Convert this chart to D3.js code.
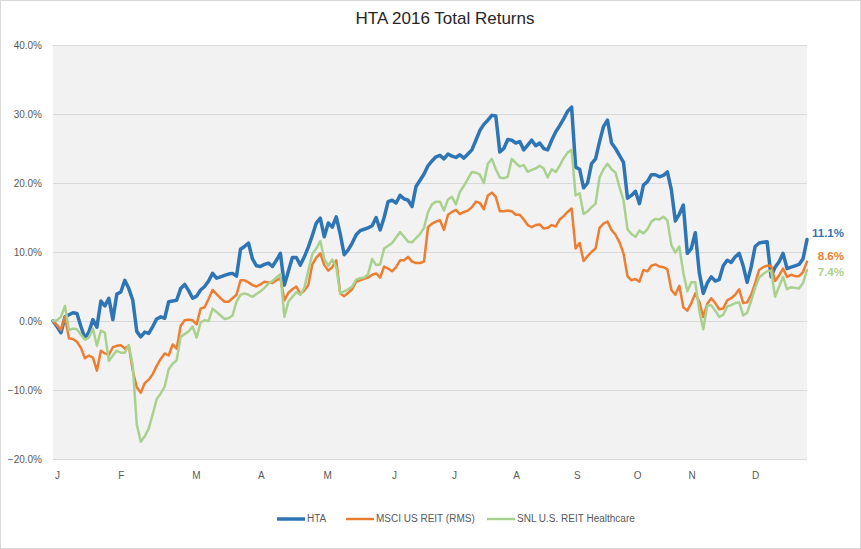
<!DOCTYPE html>
<html>
<head>
<meta charset="utf-8">
<script src="https://cdn.jsdelivr.net/npm/d3@7"></script>
<style>
  html, body { margin: 0; padding: 0; background: #ffffff; }
  svg { display: block; }
  text { font-family: 'Liberation Sans Narrow', 'Liberation Sans', Arial, sans-serif; }
</style>
</head>
<body>
<svg id="chart" width="861" height="549"></svg>
<script>
// ---------------- DATA ----------------
const title = "HTA 2016 Total Returns";
const seriesNames = ["HTA", "MSCI US REIT (RMS)", "SNL U.S. REIT Healthcare"];
const endLabels = ["11.1%", "8.6%", "7.4%"];
const monthLabels = ["J","F","M","A","M","J","J","A","S","O","N","D"];
// position of each month label, in data-point index units
const monthIndex = [1, 17, 35.8, 52.1, 68.7, 85.5, 100.5, 116.1, 131.3, 146.4, 160.1, 176];
const yTicks = [-20, -10, 0, 10, 20, 30, 40];

// cumulative total return, %
const hta = [
  0, -0.8, -1.7, 0.6, 0.9, 1.2, 1.1, -0.8, -2.5, -1.6,
  0.2, -0.9, 2.9, 2.2, 3.3, 0.2, 3.9, 4.2, 5.9, 4.7,
  3.0, -1.5, -2.3, -1.6, -1.8, -0.8, 0.3, 0.6, 0.4, 2.8,
  2.9, 3.0, 4.7, 5.3, 4.4, 3.3, 3.6, 4.5, 5.0, 5.8,
  6.9, 6.2, 6.4, 6.6, 6.8, 6.9, 6.5, 10.4, 10.8, 11.3,
  9.0, 8.0, 7.9, 8.2, 8.4, 7.9, 8.8, 9.8, 5.2, 7.2,
  9.2, 9.2, 8.1, 9.3, 10.7, 12.4, 14.2, 14.9, 12.2, 14.2,
  13.6, 15.1, 12.6, 9.6, 10.3, 11.3, 12.5, 13.1, 13.3, 13.5,
  13.8, 15.0, 13.2, 15.0, 17.3, 17.5, 17.1, 18.2, 17.7, 17.5,
  16.6, 19.5, 20.4, 21.3, 22.5, 23.2, 23.8, 24.0, 23.5, 24.2,
  23.9, 23.7, 24.1, 23.6, 24.2, 24.8, 26.2, 27.6, 28.5, 29.1,
  29.8, 29.7, 24.5, 25.0, 26.3, 26.2, 25.8, 26.0, 24.8, 25.5,
  26.2, 25.4, 25.8, 25.0, 24.8, 26.2, 27.4, 28.3, 29.3, 30.4,
  31.0, 22.3, 22.0, 19.3, 20.0, 22.8, 23.5, 26.0, 28.2, 29.1,
  25.8, 25.0, 24.0, 23.0, 17.8, 18.2, 18.8, 17.0, 19.7, 20.2,
  21.2, 21.2, 20.9, 21.1, 21.6, 19.0, 14.5, 15.5, 16.8, 9.8,
  10.5, 12.8, 7.0, 4.0, 5.5, 6.4, 5.8, 6.0, 8.0, 8.8,
  8.5, 9.3, 9.8, 8.0, 5.6, 7.8, 10.8, 11.3, 11.4, 11.5,
  6.4, 7.8, 8.6, 9.8, 7.6, 7.8, 8.0, 8.2, 9.0, 11.8
];
const msci = [
  0, -0.6, -1.3, 0.6, -2.5, -2.6, -3.0, -3.9, -5.4, -5.0,
  -5.3, -7.2, -4.3, -4.7, -4.9, -3.8, -3.6, -3.5, -4.0, -3.6,
  -7.2, -9.6, -10.4, -9.0, -8.5, -7.7, -6.5, -5.5, -4.7, -5.0,
  -3.4, -4.0, -0.7, 0.1, 0.2, 0.1, -0.5, 1.8, 2.0, 3.2,
  4.5, 3.9, 3.3, 2.8, 2.8, 3.3, 3.8, 5.9, 5.9, 5.6,
  5.2, 5.0, 5.3, 5.7, 5.6, 5.5, 5.9, 6.2, 3.0, 4.1,
  4.6, 5.0, 3.9, 4.4, 5.2, 8.2, 9.2, 9.8, 8.1, 7.3,
  7.8, 8.8, 4.0, 3.6, 4.1, 4.6, 5.7, 5.9, 6.1, 6.3,
  6.7, 6.9, 6.3, 7.9, 7.6, 7.2, 7.8, 8.8, 8.8, 9.3,
  8.6, 8.4, 8.4, 8.6, 13.6, 14.1, 14.4, 14.6, 13.2, 15.4,
  15.8, 16.1, 15.5, 15.8, 16.0, 16.5, 17.3, 17.1, 16.2, 18.2,
  18.6, 18.0, 15.9, 15.9, 16.0, 15.9, 15.4, 15.4, 14.7, 13.9,
  13.6, 13.9, 14.0, 13.4, 13.5, 13.9, 13.7, 14.7, 15.2, 15.8,
  16.3, 10.5, 11.3, 8.7, 9.4, 10.0, 10.5, 13.5, 14.1, 14.4,
  13.2, 12.5, 11.4, 9.8, 6.5, 5.9, 6.1, 5.7, 7.4, 7.2,
  8.0, 8.2, 7.9, 7.8, 7.5, 4.5, 3.8, 5.1, 2.0, 1.5,
  2.6, 4.0, 2.8, 0.6, 2.5, 3.3, 2.6, 1.7, 1.8, 3.0,
  3.3, 3.8, 4.6, 2.6, 2.7, 3.8, 5.5, 7.4, 7.8, 8.0,
  8.0, 5.8, 6.6, 7.6, 6.4, 6.7, 6.5, 6.5, 7.1, 8.6
];
const snl = [
  0, 0.1, 0.6, 2.2, -1.3, -1.1, -1.2, -2.0, -2.7, -2.4,
  -1.1, -3.6, -1.4, -1.7, -5.8, -5.0, -4.3, -4.6, -4.6, -3.5,
  -6.5, -15.0, -17.5, -16.7, -15.6, -13.5, -11.3, -10.5, -9.5, -7.0,
  -6.2, -5.7, -2.3, -1.9, -1.5, -0.8, -2.4, -0.2, 0.1, 0.0,
  1.8, 1.3, 0.8, 0.3, 0.4, 0.8, 2.8, 3.8, 4.0, 3.8,
  3.5, 3.9, 4.3, 4.8, 5.4, 5.8, 6.3, 6.8, 0.6, 2.8,
  3.5, 4.2, 3.8, 4.8, 7.3, 9.7, 10.5, 11.6, 9.0, 8.0,
  8.9, 7.8, 4.0, 4.3, 4.6, 5.0, 6.0, 6.2, 6.3, 6.8,
  9.0, 8.1, 8.2, 10.5, 10.9, 11.3, 12.1, 12.9, 12.2, 11.5,
  11.4, 12.0, 12.6, 13.5, 15.8, 16.9, 17.3, 17.3, 16.0, 17.6,
  18.0, 16.9, 18.7, 19.6, 20.6, 21.6, 21.5, 21.2, 20.0, 22.8,
  23.5, 22.0, 20.8, 20.7, 20.9, 23.5, 22.9, 22.4, 22.6, 21.6,
  21.9, 22.1, 22.5, 22.1, 20.8, 22.0, 21.6, 22.5, 23.6, 24.4,
  24.8, 18.2, 18.5, 15.5, 15.9, 16.5, 17.0, 20.8, 22.0, 22.8,
  22.0, 21.5, 19.4, 17.5, 13.3, 12.6, 12.2, 13.1, 12.7, 13.3,
  14.4, 14.8, 14.7, 15.1, 14.6, 11.0, 9.9, 10.8, 7.0, 4.3,
  5.6, 5.6, 1.5, -1.2, 2.2, 2.3, 1.5, 0.6, 0.9, 2.1,
  2.3, 2.6, 2.7, 0.8, 1.2, 2.9, 4.8, 6.3, 6.8, 7.2,
  7.3, 3.5, 5.0, 6.4, 4.6, 4.9, 4.8, 4.7, 5.5, 7.4
];

// ---------------- STYLE / LAYOUT ----------------
const colors = ["#2e75b6", "#ed7d31", "#a9d18e"];
const widths = [3.5, 2.5, 2.5];
const labelDy = [-6, -5, 3];
const plot = { left: 53, right: 807, top: 45, bottom: 459 };

const svg = d3.select("#chart");

// chart border
svg.append("rect").attr("x", 0.5).attr("y", 0.5).attr("width", 860).attr("height", 548)
  .attr("fill", "#ffffff").attr("stroke", "#d9d9d9");

// plot background
svg.append("rect").attr("x", plot.left).attr("y", plot.top)
  .attr("width", plot.right - plot.left).attr("height", plot.bottom - plot.top)
  .attr("fill", "#f2f2f2");

const n = hta.length;
const x = d3.scaleLinear().domain([0, n - 1]).range([plot.left, plot.right]);
const y = d3.scaleLinear().domain([-20, 40]).range([plot.bottom, plot.top]);

// gridlines
const grid = svg.append("g").attr("transform", `translate(${plot.left},0)`)
  .call(d3.axisLeft(y).tickValues(yTicks).tickSize(-(plot.right - plot.left)).tickFormat(""));
grid.select(".domain").remove();
grid.selectAll("line").attr("stroke", "#d9d9d9").attr("stroke-width", 1);

// y axis labels
const yAxis = svg.append("g").attr("transform", `translate(${plot.left},0)`)
  .call(d3.axisLeft(y).tickValues(yTicks).tickSize(0).tickPadding(11)
    .tickFormat(d => d3.format(".1f")(d) + "%"));
yAxis.select(".domain").remove();
yAxis.selectAll("text").attr("font-size", 10).attr("fill", "#595959")
  .style("font-family", "'Liberation Sans Narrow', 'Liberation Sans', Arial, sans-serif");

// x axis labels
const xAxis = svg.append("g").attr("transform", `translate(0,${plot.bottom})`)
  .call(d3.axisBottom(x).tickValues(monthIndex).tickSize(0).tickPadding(13)
    .tickFormat((d, i) => monthLabels[i]));
xAxis.select(".domain").remove();
xAxis.selectAll("text").attr("font-size", 10).attr("fill", "#595959")
  .style("font-family", "'Liberation Sans Narrow', 'Liberation Sans', Arial, sans-serif");

// lines
const allSeries = [hta, msci, snl];
const line = d3.line().x((d, i) => x(i)).y(d => y(d));
allSeries.forEach((s, k) => {
  svg.append("path").datum(s)
    .attr("fill", "none")
    .attr("stroke", colors[k])
    .attr("stroke-width", widths[k])
    .attr("stroke-linejoin", "round")
    .attr("stroke-linecap", "round")
    .attr("d", line);
});

// end labels
allSeries.forEach((s, k) => {
  svg.append("text")
    .attr("x", 844)
    .attr("y", y(s[s.length - 1]) + labelDy[k])
    .attr("text-anchor", "end")
    .attr("dominant-baseline", "middle")
    .attr("font-size", 11.5)
    .attr("font-weight", "bold")
    .attr("fill", colors[k])
    .style("font-family", "'Liberation Sans', Arial, sans-serif")
    .text(endLabels[k]);
});

// title
svg.append("text").attr("x", 445).attr("y", 24).attr("text-anchor", "middle")
  .attr("font-size", 17).attr("fill", "#262626")
  .text(title);

// legend
const legendX = [277, 346, 487];
const legend = svg.append("g");
seriesNames.forEach((name, k) => {
  legend.append("line")
    .attr("x1", legendX[k]).attr("x2", legendX[k] + 28)
    .attr("y1", 519).attr("y2", 519)
    .attr("stroke", colors[k]).attr("stroke-width", widths[k]);
  legend.append("text")
    .attr("x", legendX[k] + 30).attr("y", 519)
    .attr("dominant-baseline", "middle")
    .attr("font-size", 10).attr("fill", "#595959")
    .text(name);
});
</script>
</body>
</html>
